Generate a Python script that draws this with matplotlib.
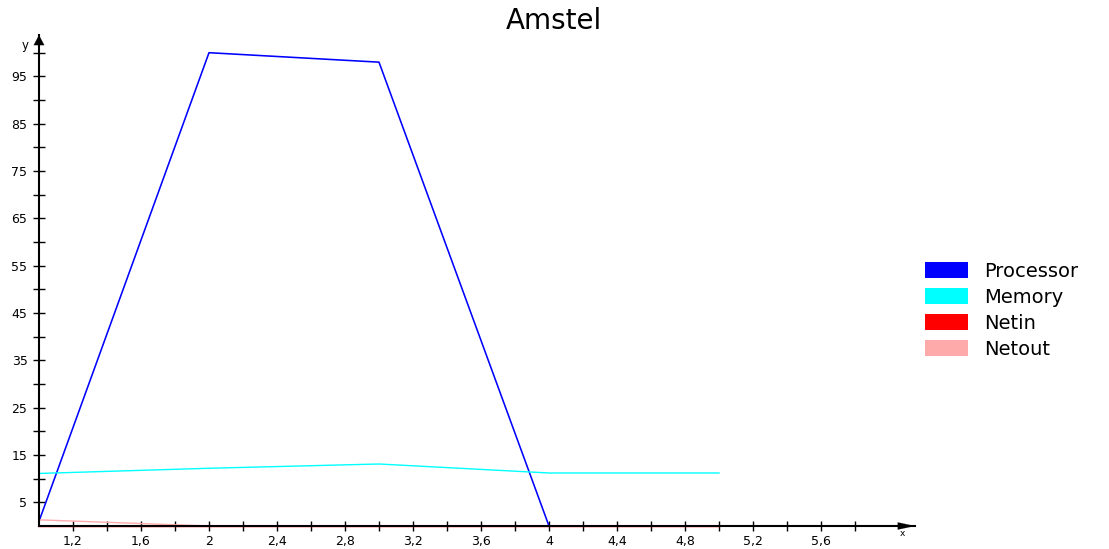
import matplotlib
matplotlib.use("Agg")
import matplotlib.pyplot as plt
from matplotlib.patches import Patch
from matplotlib.ticker import FixedLocator, FuncFormatter, NullFormatter

# Sample index (x) and the four monitored series
x_values = [1, 2, 3, 4, 5]
processor = [1, 100, 98, 0, 0]
memory = [11.1, 12.2, 13.1, 11.2, 11.2]
netin = [0, 0, 0, 0, 0]
netout = [1.3, 0, 0, 0, 0]

series_names = ["Processor", "Memory", "Netin", "Netout"]
series_colors = ["#0000ff", "#00ffff", "#ff0000", "#ffaaaa"]
series_values = [processor, memory, netin, netout]

x_major = [1.2, 1.6, 2.0, 2.4, 2.8, 3.2, 3.6, 4.0, 4.4, 4.8, 5.2, 5.6]
x_minor = [1.4, 1.8, 2.2, 2.6, 3.0, 3.4, 3.8, 4.2, 4.6, 5.0, 5.4, 5.8]
y_major = [5, 15, 25, 35, 45, 55, 65, 75, 85, 95]
y_minor = [10, 20, 30, 40, 50, 60, 70, 80, 90, 100]

plt.rcParams["font.family"] = ["DejaVu Sans"]

W, H = 1109, 549
fig = plt.figure(figsize=(W / 100, H / 100), dpi=100)

# axes frame in pixel terms: origin at (39, 526), arrow tips at x=915 / y=35
left_px, bottom_px, right_px, top_px = 39, 526, 915, 35
ax = fig.add_axes([left_px / W, (H - bottom_px) / H,
                   (right_px - left_px) / W, (bottom_px - top_px) / H])
ax.set_xlim(1, 1 + (right_px - left_px) / 170.0)
ax.set_ylim(0, (bottom_px - top_px) / 4.733)

widths = [1.15, 1.0, 1.0, 1.0]
for name, color, vals, lw in zip(series_names, series_colors, series_values, widths):
    ax.plot(x_values, vals, color=color, lw=lw, clip_on=False, zorder=2)

for side in ("top", "right"):
    ax.spines[side].set_visible(False)
for side in ("left", "bottom"):
    ax.spines[side].set_linewidth(1.5)
    ax.spines[side].set_zorder(3)

# arrow heads at the ends of both axes
x_arrow = dict(arrowstyle="-|>,head_length=1.22,head_width=0.26",
               color="black", lw=0.1, shrinkA=0, shrinkB=0, mutation_scale=10)
y_arrow = dict(arrowstyle="-|>,head_length=0.72,head_width=0.38",
               color="black", lw=0.1, shrinkA=0, shrinkB=0, mutation_scale=10)
ax.annotate("", xy=(1, 0), xytext=(0.97, 0), xycoords="axes fraction",
            arrowprops=x_arrow, annotation_clip=False)
ax.annotate("", xy=(0, 1), xytext=(0, 0.95), xycoords="axes fraction",
            arrowprops=y_arrow, annotation_clip=False)

fmt = FuncFormatter(lambda v, p: f"{round(v, 1):g}".replace(".", ","))
ax.xaxis.set_major_locator(FixedLocator(x_major))
ax.xaxis.set_minor_locator(FixedLocator(x_minor))
ax.xaxis.set_major_formatter(fmt)
ax.xaxis.set_minor_formatter(NullFormatter())
ax.yaxis.set_major_locator(FixedLocator(y_major))
ax.yaxis.set_minor_locator(FixedLocator(y_minor))
ax.yaxis.set_major_formatter(fmt)
ax.yaxis.set_minor_formatter(NullFormatter())

ax.tick_params(axis="x", which="both", direction="inout", length=6.5,
               width=1.0, labelsize=9, pad=3)
ax.tick_params(axis="y", which="both", direction="inout", length=8.6,
               width=1.0, labelsize=9, pad=4)

fig.text(25 / W, 1 - 45 / H, "y", fontsize=8.5, ha="center", va="center")
fig.text(902 / W, 1 - 534 / H, "x", fontsize=6.5, ha="center", va="center")

fig.text(554 / W, 1 - 29 / H, "Amstel", fontsize=20, ha="center",
         va="baseline")

handles = [Patch(facecolor=c, edgecolor="none") for c in series_colors]
fig.legend(handles, series_names, loc="upper left",
           bbox_to_anchor=(925 / W, 1 - 262 / H), frameon=False,
           fontsize=14, handlelength=2.2, handleheight=0.87,
           handletextpad=0.85, labelspacing=0.36, borderpad=0,
           borderaxespad=0)

fig.savefig("out.png", dpi=100)
